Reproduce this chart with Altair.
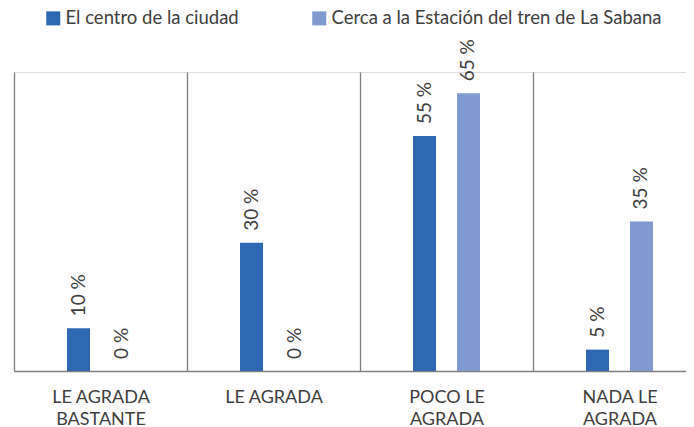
import altair as alt
import pandas as pd

categories = ["LE AGRADA BASTANTE", "LE AGRADA", "POCO LE AGRADA", "NADA LE AGRADA"]
label_lines = [["LE AGRADA", "BASTANTE"], ["LE AGRADA"], ["POCO LE", "AGRADA"], ["NADA LE", "AGRADA"]]
series = ["El centro de la ciudad", "Cerca a la Estación del tren de La Sabana"]
centro = [10, 30, 55, 5]
estacion = [0, 0, 65, 35]
colors = ["#2E67B2", "#7F9BCF"]

rows = []
for i, c in enumerate(categories):
    rows.append({"cat": c, "serie": series[0], "val": centro[i], "lbl": f"{centro[i]} %"})
    rows.append({"cat": c, "serie": series[1], "val": estacion[i], "lbl": f"{estacion[i]} %"})
df = pd.DataFrame(rows)

mapping = "{" + ",".join(
    f"'{c}': [" + ",".join(f"'{l}'" for l in lines) + "]" for c, lines in zip(categories, label_lines)
) + "}"
label_expr = f"{mapping}[datum.label]"

FONT = "Lato"

x_enc = alt.X(
    "cat:N", sort=categories, title=None,
    scale=alt.Scale(paddingInner=0, paddingOuter=0, range=[0, 692]),
    axis=alt.Axis(
        labelAngle=0, labelExpr=label_expr, labelFont=FONT, labelFontSize=18,
        labelColor="#404040", labelLineHeight=22, labelPadding=17, labelBaseline="top",
        ticks=False, grid=True, tickBand="extent", gridColor="#808080", gridWidth=1.3,
        domainColor="#808080", domainWidth=1.5, labelLimit=200,
    ),
)
xoff = alt.XOffset(
    "serie:N", sort=series,
    scale=alt.Scale(paddingInner=0.477, paddingOuter=0, range=[53, 120]),
)
y_enc = alt.Y("val:Q", scale=alt.Scale(domain=[0, 70]), axis=None, title=None)

bars = alt.Chart(df).mark_bar().encode(
    x=x_enc, xOffset=xoff, y=y_enc,
    color=alt.Color(
        "serie:N", sort=series, scale=alt.Scale(domain=series, range=colors),
        legend=alt.Legend(
            title=None, orient="none", direction="horizontal", legendX=30, legendY=-63,
            symbolType="square", symbolSize=196, symbolStrokeWidth=0, symbolOffset=0,
            labelFont=FONT, labelFontSize=18.5, labelColor="#404040", labelLimit=400,
            columnPadding=71, labelOffset=3,
        ),
    ),
)

texts = alt.Chart(df).mark_text(
    angle=270, align="left", baseline="middle", dx=12, font=FONT, fontSize=19, color="#404040"
).encode(x=x_enc, xOffset=xoff, y=y_enc, text="lbl:N")

chart = (bars + texts).properties(
    width=672, height=299,
    padding={"left": 6, "top": 64, "right": 0, "bottom": 56},
    autosize=alt.AutoSizeParams(type="none"),
).configure_view(stroke=None).configure(background="white")

chart.save("out.html", embed_options={"renderer": "svg", "actions": False})
